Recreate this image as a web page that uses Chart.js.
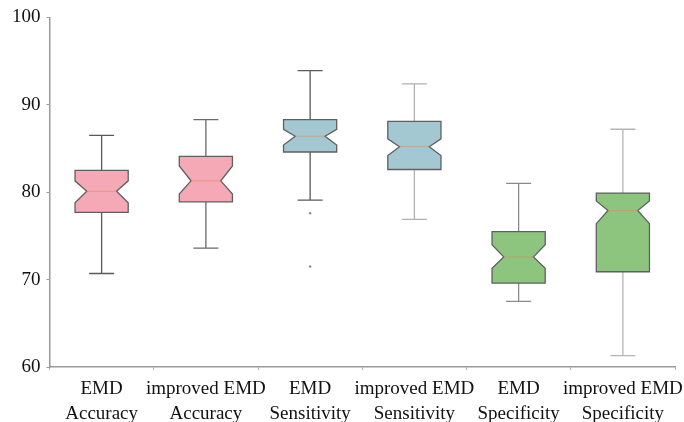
<!DOCTYPE html>
<html>
<head>
<meta charset="utf-8">
<script src="https://cdn.jsdelivr.net/npm/chart.js@4/dist/chart.umd.min.js"></script>
<style>
  body { margin: 0; background: #fff; }
  #wrap { width: 684px; height: 422px; }
</style>
</head>
<body>
<div id="wrap"><canvas id="boxChart"></canvas></div>
<script>
const categories = [
    ['EMD', 'Accuracy'], ['improved EMD', 'Accuracy'],
    ['EMD', 'Sensitivity'], ['improved EMD', 'Sensitivity'],
    ['EMD', 'Specificity'], ['improved EMD', 'Specificity']
];
const whiskerLow  = [70.7, 73.6, 79.1, 76.9, 67.5, 61.3];
const q1          = [77.7, 78.9, 84.6, 82.6, 69.6, 70.9];
const notchLow    = [78.8, 79.8, 85.4, 84.2, 71.3, 76.4];
const median      = [80.1, 81.3, 86.4, 85.2, 72.6, 77.9];
const notchHigh   = [81.3, 83.0, 87.2, 86.1, 74.0, 79.0];
const q3          = [82.5, 84.1, 88.3, 88.1, 75.5, 79.9];
const whiskerHigh = [86.5, 88.3, 93.9, 92.4, 81.0, 87.2];
const outlierUpper = [null, null, 77.6, null, null, null];
const outlierLower = [null, null, 71.5, null, null, null];
const yTicks = [60, 70, 80, 90, 100];

const fills = ['#f5a8b5', '#f5a8b5', '#a3c8d1', '#a3c8d1', '#8dc57f', '#8dc57f'];
const whiskerColors = ['#5a5a5a', '#6a6a6a', '#5a5a5a', '#b0b0b0', '#8a8a8a', '#b5b5b5'];

const notchedBoxes = {
    id: 'notchedBoxes',
    afterDatasetsDraw(chart) {
        const ctx = chart.ctx;
        const y = chart.scales.y;
        const meta = chart.getDatasetMeta(0);
        meta.data.forEach((bar, i) => {
            const cx = bar.x;
            const half = bar.width / 2;
            const inset = half * 0.44;
            const cap = half * 0.47;
            const yQ1 = y.getPixelForValue(q1[i]);
            const yQ3 = y.getPixelForValue(q3[i]);
            const yMed = y.getPixelForValue(median[i]);
            const yNl = y.getPixelForValue(notchLow[i]);
            const yNh = y.getPixelForValue(notchHigh[i]);
            const yWl = y.getPixelForValue(whiskerLow[i]);
            const yWh = y.getPixelForValue(whiskerHigh[i]);

            ctx.save();
            // whiskers
            ctx.strokeStyle = whiskerColors[i];
            ctx.lineWidth = 1.3;
            ctx.beginPath();
            ctx.moveTo(cx, yQ3); ctx.lineTo(cx, yWh);
            ctx.moveTo(cx, yQ1); ctx.lineTo(cx, yWl);
            ctx.moveTo(cx - cap, yWh); ctx.lineTo(cx + cap, yWh);
            ctx.moveTo(cx - cap, yWl); ctx.lineTo(cx + cap, yWl);
            ctx.stroke();

            // notched box
            ctx.beginPath();
            ctx.moveTo(cx - half, yQ3);
            ctx.lineTo(cx + half, yQ3);
            ctx.lineTo(cx + half, yNh);
            ctx.lineTo(cx + half - inset, yMed);
            ctx.lineTo(cx + half, yNl);
            ctx.lineTo(cx + half, yQ1);
            ctx.lineTo(cx - half, yQ1);
            ctx.lineTo(cx - half, yNl);
            ctx.lineTo(cx - half + inset, yMed);
            ctx.lineTo(cx - half, yNh);
            ctx.closePath();
            ctx.fillStyle = fills[i];
            ctx.fill();
            ctx.strokeStyle = '#5f5f5f';
            ctx.lineWidth = 1.3;
            ctx.stroke();

            // median
            ctx.strokeStyle = 'rgba(215, 140, 90, 0.55)';
            ctx.lineWidth = 1;
            ctx.beginPath();
            ctx.moveTo(cx - half + inset, yMed);
            ctx.lineTo(cx + half - inset, yMed);
            ctx.stroke();
            ctx.restore();
        });
    }
};

const outlierStyle = {
    type: 'line',
    showLine: false,
    pointRadius: 1.2,
    pointBorderWidth: 0,
    pointBackgroundColor: '#8a8a8a'
};

const ctx = document.getElementById('boxChart').getContext('2d');
new Chart(ctx, {
    type: 'bar',
    data: {
        labels: categories,
        datasets: [{
            data: q1.map((v, i) => [v, q3[i]]),
            backgroundColor: 'rgba(0,0,0,0)',
            borderWidth: 0,
            barPercentage: 0.51,
            categoryPercentage: 1
        },
        Object.assign({ data: outlierUpper }, outlierStyle),
        Object.assign({ data: outlierLower }, outlierStyle)]
    },
    options: {
        responsive: true,
        maintainAspectRatio: false,
        animation: false,
        layout: { padding: { top: 10, right: 9, left: 6, bottom: 0 } },
        plugins: { legend: { display: false }, tooltip: { enabled: false } },
        scales: {
            x: {
                offset: true,
                afterFit: (scale) => {
                    scale.height = 55;
                    scale.paddingLeft = 0;
                    scale.paddingRight = 0;
                },
                grid: { display: true, drawOnChartArea: false, tickLength: 3, color: '#b0b0b0' },
                border: { display: true, color: '#9a9a9a', width: 1.5 },
                ticks: {
                    color: '#111',
                    padding: 7,
                    maxRotation: 0,
                    autoSkip: false,
                    font: { family: 'Liberation Serif', size: 19, lineHeight: 1.3 }
                }
            },
            y: {
                min: 60,
                max: 100,
                afterBuildTicks: (scale) => { scale.ticks = yTicks.map(v => ({ value: v })); },
                grid: { display: true, drawOnChartArea: false, tickLength: 3, color: '#9a9a9a' },
                border: { display: true, color: '#9a9a9a', width: 1.5 },
                ticks: {
                    color: '#111',
                    padding: 6,
                    font: { family: 'Liberation Serif', size: 19 }
                }
            }
        }
    },
    plugins: [notchedBoxes]
});
</script>
</body>
</html>
